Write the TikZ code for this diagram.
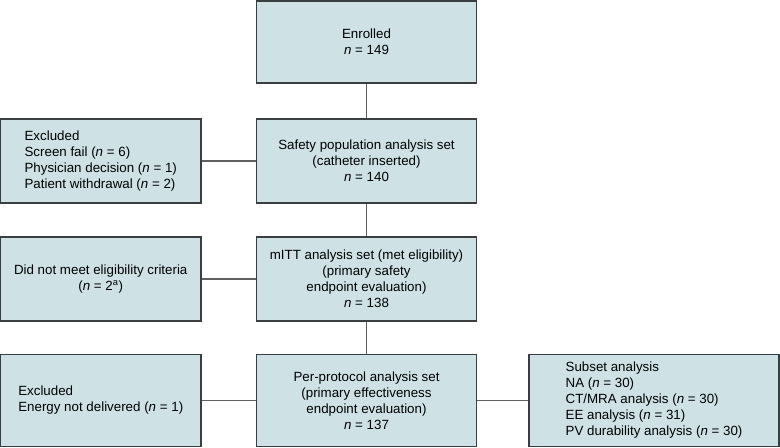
\documentclass[tikz,border=0pt]{standalone}
\usepackage{fontspec}
\setmainfont{Liberation Sans}
\definecolor{boxfill}{RGB}{206,226,230}
\definecolor{boxline}{RGB}{58,62,64}
\definecolor{linkline}{RGB}{95,95,95}

\begin{document}
\begin{tikzpicture}[x=0.75pt,y=-0.75pt]
\tikzstyle{every node}+=[font=\fontsize{10}{12}\selectfont]
\tikzstyle{flowbox}=[draw=boxline, fill=boxfill, line width=1pt, inner sep=0pt, align=center]
\tikzstyle{midbox}=[flowbox, minimum width=165pt, minimum height=63pt]
\tikzstyle{sidebox}=[flowbox, minimum width=150.4pt, minimum height=63pt, align=left]
\tikzstyle{link}=[draw=linkline, line width=0.8pt]
\useasboundingbox (0,0) rectangle (780,447);
\node [midbox, minimum height=61.5pt] (enrol) at (366.5,42) {Enrolled\\\textit{n} = 149};
\node [midbox] (safety) at (366.5,161) {Safety population analysis set\\(catheter inserted)\\\textit{n} = 140};
\node [sidebox] (excl) at (100.75,161) {Excluded\\Screen fail (\textit{n} = 6)\\Physician decision (\textit{n} = 1)\\Patient withdrawal (\textit{n} = 2)};
\node [midbox] (mitt) at (366.5,279) {mITT analysis set (met eligibility)\\(primary safety\\endpoint evaluation)\\\textit{n} = 138};
\node [sidebox, align=center] (notelig) at (100.75,279) {Did not meet eligibility criteria\\(\textit{n} = 2\textsuperscript{a})};
\node [midbox, minimum height=68.6pt] (perprot) at (366.5,400.5) {Per-protocol analysis set\\(primary effectiveness\\endpoint evaluation)\\\textit{n} = 137};
\node [sidebox, minimum height=68.6pt] (energy) at (100.75,400.5) {Excluded\\Energy not delivered (\textit{n} = 1)};
\node [sidebox, minimum width=187.5pt, minimum height=68.6pt] (subset) at (654,400.5) {Subset analysis\\NA (\textit{n} = 30)\\CT/MRA analysis (\textit{n} = 30)\\EE analysis (\textit{n} = 31)\\PV durability analysis (\textit{n} = 30)};
\draw [link] (enrol) -- (safety);
\draw [link] (safety) -- (mitt);
\draw [link] (mitt) -- (perprot);
\draw [link] (excl) -- (safety);
\draw [link] (notelig) -- (mitt);
\draw [link] (energy) -- (perprot);
\draw [link] (perprot) -- (subset);
\end{tikzpicture}
\end{document}
